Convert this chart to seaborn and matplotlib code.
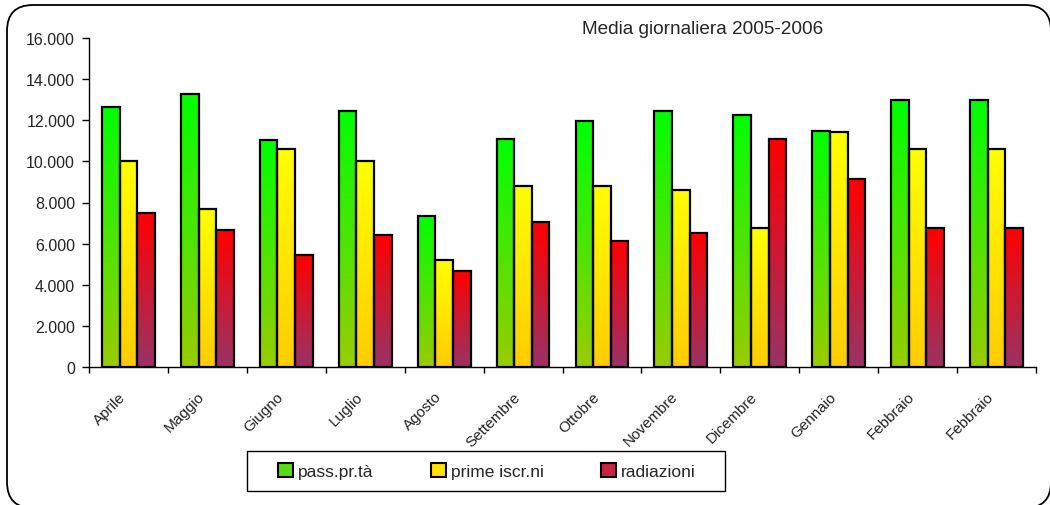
import numpy as np
import pandas as pd
import matplotlib
matplotlib.use("Agg")
import matplotlib.pyplot as plt
import seaborn as sns
from matplotlib.patches import Patch, FancyBboxPatch, Rectangle
from matplotlib.ticker import FuncFormatter, FixedLocator
from matplotlib.transforms import IdentityTransform, ScaledTranslation
from matplotlib import colors as mcolors

# ---- data ----
months = ["Aprile", "Maggio", "Giugno", "Luglio", "Agosto", "Settembre",
          "Ottobre", "Novembre", "Dicembre", "Gennaio", "Febbraio", "Febbraio"]
series_names = ["pass.pr.tà", "prime iscr.ni", "radiazioni"]
pass_prta = [12630, 13290, 11060, 12470, 7340, 11090, 11950, 12450, 12240, 11460, 12970, 12970]
prime_iscr = [10000, 7700, 10600, 10000, 5190, 8820, 8820, 8610, 6780, 11410, 10600, 10600]
radiazioni = [7500, 6660, 5450, 6400, 4690, 7070, 6140, 6500, 11090, 9140, 6780, 6780]
title_text = "Media giornaliera 2005-2006"

# ---- styling ----
sns.set_style("white")
FONT = ["Liberation Sans", "DejaVu Sans"]
plt.rcParams["font.family"] = FONT

grad_top = ["#00FF00", "#FFFF00", "#FF0000"]
grad_bottom = ["#99CC00", "#FFCC00", "#993366"]
legend_cols = ["#55DD11", "#FFE000", "#CC2244"]

rows = []
for i, m in enumerate(months):
    for s, vals in zip(series_names, [pass_prta, prime_iscr, radiazioni]):
        rows.append({"idx": i, "mese": m, "serie": s, "valore": vals[i]})
df = pd.DataFrame(rows)

fig = plt.figure(figsize=(10.5, 5.06), dpi=100)
ax = fig.add_axes([89 / 1050, 1 - 368 / 506, (1036 - 89) / 1050, (368 - 39) / 506])

sns.barplot(data=df, x="idx", y="valore", hue="serie", hue_order=series_names,
            palette=grad_top, width=0.67, edgecolor="black", linewidth=1.6,
            legend=False, ax=ax, errorbar=None, saturation=1)

t = np.linspace(0, 1, 256)[:, None]
for cont, ctop, cbot in zip(ax.containers, grad_top, grad_bottom):
    top = np.array(mcolors.to_rgb(ctop))
    bot = np.array(mcolors.to_rgb(cbot))
    img = (bot[None, None, :] * (1 - t[:, :, None]) + top[None, None, :] * t[:, :, None])
    for bar in cont:
        x0 = bar.get_x(); w = bar.get_width(); h = bar.get_height()
        ax.imshow(img, extent=(x0, x0 + w, 0, h), origin="lower", aspect="auto",
                  interpolation="bilinear", zorder=0.9)
        bar.set_facecolor("none")
        bar.set_zorder(1.5)

ax.set_xlim(-0.5, 11.5)
ax.set_ylim(0, 16000)
ax.set_xlabel("")
ax.set_ylabel("")

ax.yaxis.set_major_locator(FixedLocator(np.arange(0, 16001, 2000)))
ax.yaxis.set_major_formatter(FuncFormatter(lambda v, p: f"{v:,.0f}".replace(",", ".")))
ax.tick_params(axis="y", direction="out", length=5, width=1, color="black",
               pad=5, labelsize=11.5, left=True)

ax.set_xticks(range(12))
ax.set_xticklabels(months)
ax.xaxis.set_minor_locator(FixedLocator(np.arange(-0.5, 12, 1)))
ax.tick_params(axis="x", which="major", length=0, pad=19.5, labelsize=11)
ax.tick_params(axis="x", which="minor", direction="out", length=4, width=1,
               color="black", bottom=True)
shift = ScaledTranslation(-5 / 100, 0, fig.dpi_scale_trans)
for lab in ax.get_xticklabels():
    lab.set_rotation(45)
    lab.set_rotation_mode("anchor")
    lab.set_ha("right")
    lab.set_va("center")
    lab.set_transform(lab.get_transform() + shift)

for s in ["top", "right"]:
    ax.spines[s].set_visible(False)
for s in ["left", "bottom"]:
    ax.spines[s].set_color("black")
    ax.spines[s].set_linewidth(1)

fig.text(582 / 1050, 1 - 30 / 506, title_text, fontsize=13.7, ha="left", va="center")

# legend frame
fig.add_artist(Rectangle((247, 506 - 492), 478, 40, transform=IdentityTransform(),
                         facecolor="white", edgecolor="black", linewidth=1, zorder=2))
handles = [Patch(facecolor=c, edgecolor="black", linewidth=1.5) for c in legend_cols]
leg = fig.legend(handles, series_names, loc="center", ncol=3,
                 bbox_to_anchor=(278 / 1050, 1 - 492 / 506, (696 - 278) / 1050, 40 / 506),
                 mode="expand", fontsize=12.5, frameon=False,
                 handlelength=0.85, handleheight=0.85, handletextpad=0.3,
                 borderaxespad=0, borderpad=0)
leg.set_zorder(3)

border = FancyBboxPatch((7, -3), 1044, 503, boxstyle="round,pad=0,rounding_size=26",
                        transform=IdentityTransform(), facecolor="none",
                        edgecolor="black", linewidth=1.3)
fig.add_artist(border)

fig.savefig("out.png", dpi=100)
